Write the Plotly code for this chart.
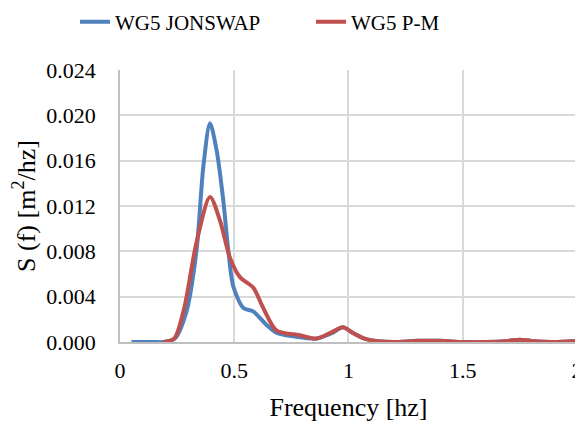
import plotly.graph_objects as go

# Blue series: WG5 JONSWAP
freq_jonswap = [0.05, 0.10, 0.15, 0.19, 0.24, 0.29, 0.335, 0.365, 0.394, 0.423, 0.452, 0.474,
                0.496, 0.54, 0.583, 0.642, 0.686, 0.76, 0.86, 0.93, 0.975, 1.02, 1.07, 1.12,
                1.2, 1.3, 1.4, 1.5, 1.6, 1.7, 1.75, 1.8, 1.9, 2.0]
s_jonswap = [0.0, 0.0, 0.0, 0.0, 0.0003, 0.0026, 0.0081, 0.0155, 0.0193, 0.0169, 0.0125, 0.0081,
             0.0049, 0.0030, 0.0027, 0.0015, 0.0008, 0.0005, 0.0003, 0.0008, 0.0013, 0.0008, 0.0003, 0.0001,
             0.0, 0.0001, 0.0001, 0.0, 0.0, 0.0001, 0.0002, 0.0001, 0.0, 0.0001]

# Red series: WG5 P-M
freq_pm = [0.19, 0.237, 0.28, 0.335, 0.394, 0.438, 0.482, 0.526, 0.583, 0.627, 0.686, 0.788,
           0.86, 0.93, 0.975, 1.02, 1.07, 1.12, 1.2, 1.3, 1.4, 1.5, 1.6, 1.7, 1.75, 1.8, 1.9, 2.0]
s_pm = [0.0, 0.0003, 0.0029, 0.0088, 0.0128, 0.0107, 0.0074, 0.0057, 0.0048, 0.0030, 0.0010, 0.0006,
        0.0003, 0.0009, 0.0013, 0.0008, 0.0003, 0.0001, 0.0, 0.0001, 0.0001, 0.0, 0.0, 0.0001, 0.0002, 0.0001, 0.0, 0.0001]

x_ticks = [0, 0.5, 1, 1.5, 2]
x_tick_labels = ["0", "0.5", "1", "1.5", "2"]

FF = "Times New Roman, Liberation Serif, serif"

fig = go.Figure()
fig.add_trace(go.Scatter(x=freq_jonswap, y=s_jonswap, mode="lines", name="WG5 JONSWAP", legend="legend",
                         line=dict(color="#4F81BD", width=4, shape="spline", smoothing=0.8)))
fig.add_trace(go.Scatter(x=freq_pm, y=s_pm, mode="lines", name="WG5 P-M", legend="legend2",
                         line=dict(color="#C0504D", width=4, shape="spline", smoothing=0.8)))

legend_common = dict(orientation="h", xanchor="left", yanchor="middle", y=0.966,
                     xref="container", yref="container",
                     font=dict(family=FF, size=21, color="black"), bgcolor="rgba(0,0,0,0)")

fig.update_layout(
    width=575, height=417,
    margin=dict(l=112, r=6, t=62, b=83, autoexpand=False),
    paper_bgcolor="white", plot_bgcolor="white",
    font=dict(family=FF, size=21, color="black"),
    legend=dict(x=67 / 575, **legend_common),
    legend2=dict(x=303 / 575, **legend_common),
    showlegend=True,
)
fig.update_xaxes(range=[0, 2.0005], tickvals=x_ticks, ticktext=x_tick_labels,
                 showgrid=True, gridcolor="#D9D9D9", gridwidth=1.5,
                 showline=True, linecolor="#BFBFBF", linewidth=1.5,
                 ticks="", zeroline=False, automargin=False, ticklabelstandoff=8,
                 title=dict(text="Frequency [hz]", font=dict(family=FF, size=26, color="black"), standoff=16),
                 tickfont=dict(family=FF, size=22, color="black"))
fig.update_yaxes(range=[0, 0.024], dtick=0.004, tickformat=".3f",
                 showgrid=True, gridcolor="#D9D9D9", gridwidth=1.5,
                 showline=True, linecolor="#BFBFBF", linewidth=1.5,
                 ticks="", zeroline=False, automargin=False, ticklabelstandoff=18,
                 title=dict(text="S (f) [m<sup>2</sup>/hz]", font=dict(family=FF, size=26, color="black"), standoff=15),
                 tickfont=dict(family=FF, size=22, color="black"))

fig.write_html("out.html")
